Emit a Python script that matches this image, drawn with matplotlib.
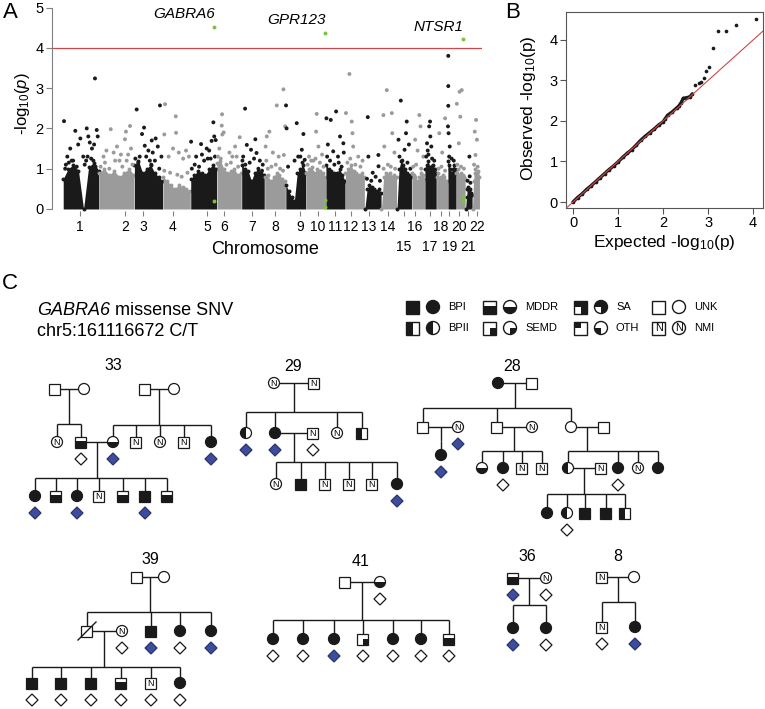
import numpy as np
import matplotlib.pyplot as plt
from matplotlib.patches import Rectangle, Circle, Wedge, Polygon

plt.rcParams['font.family'] = ['Liberation Sans', 'DejaVu Sans']
plt.rcParams['mathtext.fontset'] = 'custom'
plt.rcParams['mathtext.rm'] = 'Liberation Sans'
plt.rcParams['mathtext.it'] = 'Liberation Sans:italic'

# ---------------- panel A: Manhattan plot data ----------------
chrom_len = [249, 243, 198, 191, 181, 171, 159, 146, 141, 136, 135,
             134, 115, 107, 103, 90, 81, 78, 59, 63, 48, 51]
# height of the dense bulk of points along each chromosome
chrom_env = [
    [0.75, 1.0, 1.1, 0.95, 0.0, 1.05, 1.15, 0.95],
    [0.9, 1.0, 0.85, 0.95, 0.8, 0.9, 1.0, 0.85],
    [1.1, 1.2, 0.9, 1.0, 1.1, 0.9, 0.8, 0.7],
    [0.8, 0.7, 0.6, 0.5, 0.6, 0.55, 0.5, 0.45],
    [0.75, 0.85, 0.95, 0.9, 0.85, 1.0, 1.1, 1.0],
    [1.15, 1.2, 1.0, 0.9, 0.95, 1.0, 0.85, 0.9],
    [1.1, 1.0, 0.95, 0.7, 0.9, 0.95, 0.9, 0.85],
    [0.8, 0.85, 0.7, 0.8, 0.9, 0.85, 0.75, 0.7],
    [0.6, 0.45, 0.3, 0.2, 0.9, 1.0, 1.1, 0.9],
    [0.9, 1.0, 1.05, 0.9, 1.0, 0.95, 0.9, 0.8],
    [1.1, 1.0, 0.95, 0.9, 0.9, 1.0, 0.85, 0.7],
    [0.9, 1.0, 1.1, 0.95, 0.9, 0.85, 0.9, 0.8],
    [0.0, 0.5, 0.6, 0.55, 0.5, 0.45, 0.5, 0.4],
    [0.0, 0.8, 0.9, 0.85, 0.9, 0.8, 0.85, 0.8],
    [0.0, 1.0, 1.2, 1.1, 1.0, 0.9, 0.85, 0.8],
    [0.9, 0.85, 0.8, 0.7, 0.8, 0.9, 0.85, 0.75],
    [1.0, 1.1, 1.2, 1.05, 1.0, 1.1, 1.0, 0.9],
    [0.8, 0.9, 0.75, 0.8, 0.85, 0.8, 0.7, 0.7],
    [1.2, 1.1, 1.0, 0.9, 1.0, 1.1, 1.0, 0.9],
    [0.9, 1.0, 0.85, 0.8, 0.9, 0.85, 0.8, 0.75],
    [0.0, 0.3, 0.5, 0.55, 0.45, 0.5, 0.4, 0.35],
    [0.0, 0.7, 0.9, 1.0, 0.85, 0.9, 0.95, 0.8],
]
# sparse points above the bulk: genome position (Mb, cumulative) and -log10(p)
pt_mb = [7, 221, 85, 164, 233, 30, 50, 105, 120, 175, 185, 200, 215, 240, 140, 60, 20, 160, 195,
         330, 463, 435, 373, 428, 470, 300, 280, 350, 400, 450, 390,
         509, 560, 670, 613, 640, 546, 565, 530, 590, 620, 655, 600, 680,
         705, 779, 781, 700, 760, 800, 730, 830, 850, 870,
         885, 954, 993, 1027, 1039, 1055, 920, 960, 1010, 1045, 1000,
         1099, 1097, 1101, 1110, 1189, 1221, 1150, 1200, 1080, 1170,
         1258, 1270, 1329, 1299, 1337, 1245, 1360, 1380,
         1400, 1408, 1426, 1477, 1523, 1535, 1526, 1450, 1490, 1405,
         1541, 1545, 1555, 1615, 1661, 1650, 1670, 1640,
         1753, 1749, 1765, 1700, 1730, 1790,
         1820, 1850, 1887, 1914, 1937, 1867, 1830, 1900, 1940,
         1979, 1955, 1995, 2000, 2005, 2040, 2070,
         2106, 2110, 2179, 2180, 2140,
         2237, 2214, 2272, 2275, 2220, 2290,
         2334, 2318, 2375, 2370, 2360, 2390,
         2462, 2470, 2433, 2450, 2490,
         2536, 2530, 2538, 2515, 2545, 2555, 2520,
         2640, 2600, 2620,
         2662, 2662, 2662, 2660, 2664, 2672,
         2721, 2740, 2755, 2745, 2735,
         2808, 2810,
         2854, 2845, 2860, 2850,
         # points just above the bulk
         15, 40, 70, 95, 150, 170, 210, 225,
         260, 290, 320, 360, 410, 440, 480,
         500, 520, 575, 610, 635, 665,
         700, 740, 790, 820, 860,
         890, 910, 940, 975, 1020, 1050,
         1070, 1090, 1130, 1160, 1210,
         1240, 1260, 1290, 1320, 1350, 1375,
         1415, 1440, 1470, 1500, 1520,
         1600, 1625, 1655,
         1690, 1715, 1745, 1775, 1800,
         1825, 1845, 1875, 1905, 1925,
         1965, 1985, 2020, 2055,
         2100, 2130, 2160, 2190,
         2215, 2245, 2265, 2295,
         2325, 2345, 2380, 2400,
         2420, 2440, 2475,
         2510, 2525, 2550, 2565,
         2595, 2615, 2640,
         2668, 2685, 2700,
         2725, 2750, 2770,
         2795, 2815,
         2840, 2865]
pt_logp = [2.18, 3.24, 1.94, 2.0, 1.96, 1.3, 1.5, 1.6, 1.75, 1.8, 1.65, 1.5, 1.6, 1.8, 1.3, 1.2, 1.1, 1.2, 1.25,
           1.98, 2.06, 1.92, 1.55, 1.73, 1.5, 1.45, 1.3, 1.4, 1.35, 1.35, 1.2,
           2.47, 2.02, 2.57, 1.70, 1.75, 1.86, 1.57, 1.3, 1.45, 1.4, 1.55, 1.2, 1.3,
           2.6, 2.3, 1.89, 1.85, 1.5, 1.4, 1.3, 1.25, 1.45, 1.3,
           1.67, 1.61, 1.5, 1.69, 2.15, 1.71, 1.3, 1.35, 1.45, 1.8, 1.25,
           2.35, 2.07, 1.85, 1.9, 1.55, 1.78, 1.4, 1.3, 1.5, 1.3,
           2.49, 1.59, 1.73, 1.47, 1.39, 1.3, 1.2, 1.1,
           1.55, 1.8, 1.92, 2.57, 2.97, 2.05, 1.34, 1.4, 1.3, 1.2,
           2.57, 2.0, 1.05, 2.13, 1.86, 1.47, 1.22, 1.3,
           2.36, 1.92, 1.55, 1.3, 1.2, 1.35,
           2.25, 2.21, 2.42, 1.8, 1.63, 1.43, 1.6, 1.3, 1.4,
           3.35, 2.38, 2.17, 1.88, 1.55, 1.3, 1.2,
           2.28, 1.3, 1.34, 1.06, 0.9,
           2.95, 2.33, 2.38, 1.88, 1.55, 1.4,
           2.69, 1.72, 2.17, 1.88, 1.47, 1.6,
           2.33, 2.05, 1.72, 1.45, 1.3,
           2.17, 2.05, 1.8, 1.63, 1.55, 1.06, 1.45,
           2.25, 1.88, 1.4,
           3.80, 3.05, 2.56, 2.05, 1.88, 1.55,
           2.61, 2.91, 2.95, 2.29, 1.63,
           1.3, 0.81,
           2.21, 1.92, 1.72, 1.34,
           1.0, 1.15, 1.2, 1.05, 1.1, 1.3, 1.2, 1.05,
           1.05, 1.15, 1.0, 1.2, 1.05, 1.2, 1.1,
           1.25, 1.15, 1.3, 1.1, 1.2, 1.0,
           0.95, 0.9, 0.85, 0.8, 0.9,
           1.0, 1.1, 1.05, 1.2, 1.25, 1.3,
           1.3, 1.25, 1.1, 1.15, 1.05,
           1.2, 1.1, 1.15, 1.25, 1.0, 0.95,
           1.0, 1.05, 1.1, 1.0, 0.95,
           1.2, 1.3, 1.15,
           1.1, 1.2, 1.25, 1.15, 1.05,
           1.3, 1.2, 1.1, 1.15, 1.05,
           1.15, 1.25, 1.1, 1.05,
           0.75, 0.7, 0.8, 0.7,
           1.0, 1.1, 1.05, 1.0,
           1.3, 1.2, 1.15, 1.0,
           1.05, 1.1, 1.0,
           1.3, 1.35, 1.25, 1.2,
           1.0, 1.05, 0.95,
           1.3, 1.25, 1.2,
           1.1, 1.05, 1.0,
           0.7, 0.65,
           1.1, 1.05]
hit_genes = ['GABRA6', 'GPR123', 'NTSR1']
hit_mb = [1044, 1813, 2762]
hit_logp = [4.52, 4.37, 4.21]
hit_low_mb = [1044, 1813, 1813, 2762, 2762]
hit_low_logp = [0.19, 0.23, 0.05, 0.31, 0.21]
threshold = 4
chrom_labels = [str(i) for i in range(1, 23)]
chrom_tick_mb = [117, 428, 553, 760, 995, 1113, 1306, 1465, 1638, 1762, 1880,
                 1990, 2115, 2246, 2357, 2433, 2536, 2612, 2668, 2737, 2799, 2861]

# ---------------- panel B: QQ plot data ----------------
qq_expected = [0.0, 0.1, 0.2, 0.3, 0.4, 0.5, 0.6, 0.7, 0.8, 0.9, 1.0, 1.1, 1.2, 1.3, 1.4,
               1.5, 1.6, 1.7, 1.8, 1.9, 2.0, 2.05, 2.1, 2.2, 2.3, 2.35, 2.4, 2.45, 2.5,
               2.55, 2.6, 2.65, 2.72, 2.79, 2.85, 2.90, 2.96, 3.03, 3.10, 3.22, 3.39, 3.61, 4.06]
qq_observed = [0.0, 0.11, 0.2, 0.31, 0.4, 0.5, 0.6, 0.7, 0.8, 0.89, 0.99, 1.1, 1.2, 1.29, 1.4,
               1.52, 1.62, 1.71, 1.8, 1.9, 1.98, 2.06, 2.14, 2.22, 2.32, 2.37, 2.45, 2.56, 2.57,
               2.58, 2.6, 2.67, 2.89, 2.94, 2.97, 3.05, 3.23, 3.34, 3.81, 4.21, 4.21, 4.37, 4.52]
n_dense = 32

# ---------------- panel C: pedigrees ----------------
# person: (x, y, sex, phenotype, genotype)  genotype 'b' = carrier, 'w' = non-carrier, '' = not typed
ped_people = [
    # family 33
    (55, 389, 'M', 'UNK', ''), (84, 389, 'F', 'UNK', ''), (145, 389, 'M', 'UNK', ''), (174, 389, 'F', 'UNK', ''),
    (57, 442, 'F', 'NMI', ''), (81, 442, 'M', 'MDDR', 'w'), (113, 442, 'F', 'MDDR', 'b'), (136, 442, 'M', 'NMI', ''),
    (160, 442, 'F', 'NMI', ''), (184, 442, 'M', 'NMI', ''), (211, 442, 'F', 'BPI', 'b'),
    (35, 496, 'F', 'BPI', 'b'), (56, 496, 'M', 'MDDR', ''), (77, 496, 'F', 'BPI', 'b'), (99, 496, 'M', 'NMI', ''),
    (123, 496, 'M', 'MDDR', ''), (145, 496, 'M', 'BPI', 'b'), (167, 496, 'M', 'MDDR', ''),
    # family 29
    (274, 383, 'F', 'NMI', ''), (314, 383, 'M', 'NMI', ''),
    (246, 433, 'F', 'BPII', 'b'), (275, 433, 'F', 'BPI', 'b'), (313, 433, 'M', 'NMI', 'w'), (337, 433, 'F', 'NMI', ''),
    (362, 433, 'M', 'BPII', ''),
    (276, 484, 'F', 'NMI', ''), (301, 484, 'M', 'BPI', ''), (325, 484, 'M', 'NMI', ''), (349, 484, 'M', 'NMI', ''),
    (372, 484, 'M', 'NMI', ''), (397, 484, 'F', 'BPI', 'b'),
    # family 28
    (498, 383, 'F', 'BPI', ''), (532, 383, 'M', 'UNK', ''),
    (423, 427, 'M', 'UNK', ''), (458, 427, 'F', 'NMI', 'b'), (497, 427, 'M', 'UNK', ''), (532, 427, 'F', 'NMI', ''),
    (571, 427, 'F', 'UNK', ''), (604, 427, 'M', 'UNK', ''),
    (441, 455, 'F', 'BPI', 'b'),
    (482, 468, 'F', 'MDDR', ''), (503, 468, 'F', 'BPI', 'w'), (522, 468, 'M', 'NMI', ''), (542, 468, 'M', 'NMI', ''),
    (568, 468, 'F', 'BPII', ''), (601, 468, 'M', 'NMI', ''), (618, 468, 'F', 'BPI', 'w'), (638, 468, 'F', 'NMI', ''),
    (658, 468, 'F', 'BPI', ''),
    (547, 513, 'F', 'BPI', ''), (567, 513, 'F', 'BPII', 'w'), (585, 513, 'M', 'BPI', ''), (606, 513, 'M', 'BPI', ''),
    (625, 513, 'M', 'BPII', ''),
    # family 39
    (137, 577, 'M', 'UNK', ''), (164, 577, 'F', 'UNK', ''),
    (87, 631, 'M', 'UNK', ''), (122, 631, 'F', 'NMI', 'w'), (151, 631, 'M', 'BPI', 'b'), (180, 631, 'F', 'BPI', 'w'),
    (211, 631, 'F', 'BPI', 'b'),
    (32, 683, 'M', 'BPI', 'w'), (61, 683, 'M', 'BPI', 'w'), (91, 683, 'M', 'BPI', 'w'), (121, 683, 'M', 'MDDR', 'w'),
    (151, 683, 'M', 'NMI', 'w'), (180, 683, 'F', 'BPI', 'w'),
    # family 41
    (345, 582, 'M', 'UNK', ''), (380, 582, 'F', 'MDDR', 'w'),
    (273, 639, 'F', 'BPI', 'w'), (303, 639, 'F', 'BPI', 'w'), (334, 639, 'F', 'BPI', 'b'), (363, 639, 'M', 'SEMD', 'w'),
    (393, 639, 'F', 'BPI', 'w'), (421, 639, 'F', 'BPI', 'w'), (449, 639, 'M', 'MDDR', 'w'),
    # family 36
    (513, 578, 'M', 'MDDR', 'b'), (546, 578, 'F', 'NMI', 'w'), (513, 628, 'F', 'BPI', 'b'), (546, 628, 'F', 'BPI', 'w'),
    # family 8
    (602, 577, 'M', 'NMI', ''), (634, 577, 'F', 'UNK', ''), (602, 627, 'M', 'NMI', 'w'), (635, 627, 'F', 'BPI', 'b'),
]
ped_couples = [(55, 84, 389), (145, 174, 389), (81, 113, 442),
               (274, 314, 383), (275, 313, 433),
               (498, 532, 383), (423, 458, 427), (497, 532, 427), (571, 604, 427), (568, 601, 468),
               (137, 164, 577), (87, 122, 631),
               (345, 380, 582), (513, 546, 578), (602, 634, 577)]
# (drop x, couple y, bar y, children x, children y)
ped_sibships = [(69.5, 389, 424, [57, 81], 442),
                (159.5, 389, 425, [113, 136, 160, 184, 211], 442),
                (97, 442, 478, [35, 56, 77, 99, 123, 145, 167], 496),
                (294, 383, 412, [246, 275, 337, 362], 433),
                (294, 433, 462, [276, 301, 325, 349, 372, 397], 484),
                (515, 383, 408, [423, 497, 571], 427),
                (441, 427, 441, [441], 455),
                (514.5, 427, 451, [482, 503, 522, 542], 468),
                (587.5, 427, 451, [568, 618, 638, 658], 468),
                (584.5, 468, 494, [547, 567, 585, 606, 625], 513),
                (150.5, 577, 612, [87, 151, 180, 211], 631),
                (104.5, 631, 667, [32, 61, 91, 121, 151, 180], 683),
                (362.5, 582, 620, [273, 303, 334, 363, 393, 421, 449], 639),
                (529.5, 578, 605, [513, 546], 628),
                (618, 577, 602, [602, 635], 627)]
ped_deceased = [(87, 631)]
family_ids = ['33', '29', '28', '39', '41', '36', '8']
family_label_xy = [(113, 365), (293, 366), (512, 366), (150, 559), (361, 561), (527, 556), (618, 556)]
legend_pheno = ['BPI', 'MDDR', 'SA', 'UNK', 'BPII', 'SEMD', 'OTH', 'NMI']

W, H = 765, 709
BLACK = '#1a1a1a'
GRAY = '#9b9b9b'
GREEN = '#7dc242'
RED = '#d04848'
BLUE = '#3e4c9c'

fig = plt.figure(figsize=(W / 100, H / 100), dpi=100)


def box(l, t, r, b):
    return [l / W, 1 - b / H, (r - l) / W, (b - t) / H]


# ---- A
axA = fig.add_axes(box(52, 5.5, 482, 211))
cum = np.concatenate([[0], np.cumsum(chrom_len)])
for i in range(len(chrom_len)):
    col = BLACK if i % 2 == 0 else GRAY
    xs = np.linspace(cum[i] + 1.5, cum[i + 1] - 1.5, len(chrom_env[i]))
    axA.fill_between(xs, 0, chrom_env[i], color=col, lw=0)
    axA.scatter(xs, chrom_env[i], s=8, color=col, lw=0)
mb = np.array(pt_mb)
idx = np.searchsorted(cum[1:], mb, side='right')
cols = np.where(idx % 2 == 0, BLACK, GRAY)
axA.scatter(mb, pt_logp, s=8, c=cols, lw=0)
axA.scatter(hit_mb + hit_low_mb, hit_logp + hit_low_logp, s=8, color=GREEN, lw=0, zorder=4)
axA.axhline(threshold, color=RED, lw=0.9)
for g, x, y in zip(hit_genes, hit_mb, hit_logp):
    axA.text(x + 5, y + 0.31, g, ha='right', va='center', fontsize=11, style='italic')
axA.set_xlim(-76, 2895)
axA.set_ylim(-0.05, 5.05)
for s in ['top', 'right', 'bottom']:
    axA.spines[s].set_visible(False)
axA.spines['left'].set_bounds(0, 5)
axA.spines['left'].set_color('#808080')
axA.set_yticks(range(6))
axA.tick_params(axis='y', length=4, width=0.8, color='#808080', labelsize=10.5, pad=2)
axA.set_xticks(chrom_tick_mb)
row2 = [i for i in range(len(chrom_labels)) if i >= 14 and i % 2 == 0]
axA.set_xticklabels(['' if i in row2 else lab for i, lab in enumerate(chrom_labels)])
axA.tick_params(axis='x', length=3.5, width=0.8, color='#808080', labelsize=10, pad=3)
for i in row2:
    axA.annotate(chrom_labels[i], xy=(chrom_tick_mb[i], 0), xycoords=('data', 'axes fraction'),
                 xytext=(0, -21), textcoords='offset points', ha='center', va='top', fontsize=10)
fig.text(22 / W, 1 - 104 / H, '-log$_{10}$($p$)', rotation=90, ha='center', va='center', fontsize=12)
fig.text(265 / W, 1 - 250 / H, 'Chromosome', ha='center', va='center', fontsize=13)
fig.text(10 / W, 1 - 13 / H, 'A', ha='center', va='center', fontsize=16)

# ---- B
axB = fig.add_axes(box(566, 12, 763, 208))
axB.plot([-1, 5], [-1, 5], color=RED, lw=0.8, zorder=3)
axB.plot(qq_expected[:n_dense], qq_observed[:n_dense], color=BLACK, lw=2.4, solid_capstyle='round')
axB.scatter(qq_expected, qq_observed, s=7, color=BLACK, lw=0)
axB.set_xlim(-0.156, 4.22)
axB.set_ylim(-0.148, 4.69)
axB.set_xticks(range(5))
axB.set_yticks(range(5))
axB.tick_params(length=4, width=0.8, color='#555555', labelsize=10.5, pad=2)
for s in axB.spines.values():
    s.set_color('#555555')
    s.set_linewidth(0.8)
fig.text(664 / W, 1 - 243 / H, 'Expected -log$_{10}$(p)', ha='center', va='center', fontsize=12.5)
fig.text(529 / W, 1 - 108 / H, 'Observed -log$_{10}$(p)', rotation=90, ha='center', va='center', fontsize=12.5)
fig.text(513 / W, 1 - 12 / H, 'B', ha='center', va='center', fontsize=16)

# ---- C
axC = fig.add_axes([0, 0, 1, (H - 270) / H])
axC.set_xlim(0, W)
axC.set_ylim(H, 270)
axC.axis('off')


def symbol(ax, x, y, sex, ph, r=5.5, lw=0.9):
    if sex == 'M':
        ax.add_patch(Rectangle((x - r, y - r), 2 * r, 2 * r, fc='white', ec='none', zorder=3))
        parts = {'BPI': [(-r, -r, 2 * r, 2 * r)], 'MDDR': [(-r, -0.2 * r, 2 * r, 1.2 * r)],
                 'BPII': [(-r, -r, r, 2 * r)], 'SEMD': [(0, 0, r, r)], 'OTH': [(-r, -r, r, r)],
                 'SA': [(-r, -r, 2 * r, r), (0, 0, r, r)]}
        for dx, dy, w, h in parts.get(ph, []):
            ax.add_patch(Rectangle((x + dx, y + dy), w, h, fc=BLACK, ec='none', zorder=4))
        ax.add_patch(Rectangle((x - r, y - r), 2 * r, 2 * r, fc='none', ec=BLACK, lw=lw, zorder=5))
    else:
        ax.add_patch(Circle((x, y), r, fc='white', ec='none', zorder=3))
        wedges = {'BPI': [(0, 360)], 'MDDR': [(0, 180)], 'BPII': [(90, 270)],
                  'SEMD': [(0, 90)], 'OTH': [(90, 180)], 'SA': [(180, 450)]}
        for a1, a2 in wedges.get(ph, []):
            ax.add_patch(Wedge((x, y), r, a1, a2, fc=BLACK, ec='none', zorder=4))
        ax.add_patch(Circle((x, y), r, fc='none', ec=BLACK, lw=lw, zorder=5))
    if ph == 'NMI':
        ax.text(x, y + 0.3, 'N', ha='center', va='center', fontsize=6.5 * r / 5.5, zorder=6)


def diamond(ax, x, y, g, d=6):
    fc = BLUE if g == 'b' else 'white'
    ec = '#2a3470' if g == 'b' else BLACK
    ax.add_patch(Polygon([(x, y - d), (x + d, y), (x, y + d), (x - d, y)], closed=True,
                         fc=fc, ec=ec, lw=0.9, zorder=5))


def pline(ax, xs, ys):
    ax.plot(xs, ys, color=BLACK, lw=1.0, zorder=2, solid_capstyle='butt')


for x1, x2, y in ped_couples:
    pline(axC, [x1, x2], [y, y])
for xd, yc, yb, kids, yk in ped_sibships:
    pline(axC, [xd, xd], [yc, yb])
    pline(axC, [min(kids + [xd]), max(kids + [xd])], [yb, yb])
    for k in kids:
        pline(axC, [k, k], [yb, yk])
for x, y, sex, ph, g in ped_people:
    symbol(axC, x, y, sex, ph)
    if g:
        diamond(axC, x, y + 17, g)
for x, y in ped_deceased:
    axC.plot([x - 9, x + 9], [y + 9, y - 9], color=BLACK, lw=1.0, zorder=6)
for fid, (x, y) in zip(family_ids, family_label_xy):
    axC.text(x, y, fid, ha='center', va='center', fontsize=11.5)

# legend
leg_x = [413, 490, 581, 659]
leg_y = [307, 328]
for i, ph in enumerate(legend_pheno):
    lx, ly = leg_x[i % 4], leg_y[i // 4]
    symbol(axC, lx, ly, 'M', ph, r=6.5, lw=1.0)
    symbol(axC, lx + 20, ly, 'F', ph, r=6.5, lw=1.0)
    axC.text(lx + 35, ly, ph, ha='left', va='center', fontsize=8)

t1 = axC.text(37, 310, 'GABRA6', ha='left', va='center', fontsize=13, style='italic')
axC.annotate(' missense SNV', xy=(1, 0.5), xycoords=t1, ha='left', va='center', fontsize=13)
axC.text(37, 331, 'chr5:161116672 C/T', ha='left', va='center', fontsize=13)
axC.text(10, 283, 'C', ha='center', va='center', fontsize=16)

fig.savefig('out.png', dpi=100)
